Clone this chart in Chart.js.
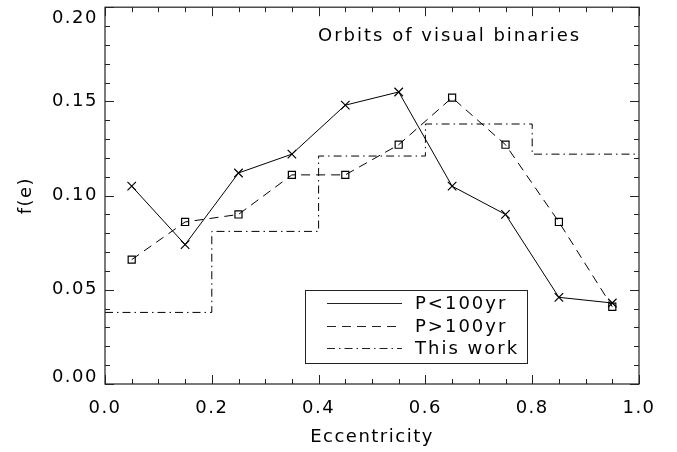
<!DOCTYPE html>
<html>
<head>
<meta charset="utf-8">
<script src="https://cdn.jsdelivr.net/npm/chart.js@4"></script>
<style>
  html, body { margin: 0; padding: 0; background: #fff; }
</style>
</head>
<body>
<canvas id="eccChart" width="677" height="452"></canvas>
<script>
/* Data */
const binCenters = [0.05, 0.15, 0.25, 0.35, 0.45, 0.55, 0.65, 0.75, 0.85, 0.95];
const shortPeriod = [0.105, 0.074, 0.112, 0.122, 0.148, 0.155, 0.105, 0.090, 0.046, 0.043];
const longPeriod = [0.066, 0.086, 0.090, 0.111, 0.111, 0.127, 0.152, 0.127, 0.086, 0.041];
const binEdges = [0.0, 0.2, 0.4, 0.6, 0.8, 1.0];
const thisWork = [0.038, 0.081, 0.121, 0.138, 0.122, 0.122];

const xTicks = [0.0, 0.2, 0.4, 0.6, 0.8, 1.0];
const yTicks = [0.0, 0.05, 0.10, 0.15, 0.20];
const seriesNames = ["P<100yr", "P>100yr", "This work"];
const titleText = "Orbits of visual binaries";

const FONT = "'DejaVu Sans', 'Liberation Sans', sans-serif";
const INK = "#000";
const dashLong = [9, 6];
const dashDot = [8, 4, 1.5, 4];

Chart.defaults.font.family = FONT;
Chart.defaults.font.size = 18;
Chart.defaults.color = INK;

function toPoints(xs, ys) {
  return xs.map((x, i) => ({ x: x, y: ys[i] }));
}

/* Frame, inward ticks, y labels, title and legend box */
const idlFrame = {
  id: "idlFrame",
  beforeDraw(chart) {
    chart.ctx.letterSpacing = "1.5px";
  },
  afterDraw(chart) {
    const ctx = chart.ctx;
    const area = chart.chartArea;
    const xs = chart.scales.x;
    const ys = chart.scales.y;

    ctx.save();
    ctx.strokeStyle = "#222";
    ctx.lineWidth = 1.2;
    ctx.strokeRect(area.left, area.top, area.right - area.left, area.bottom - area.top);

    ctx.lineWidth = 1;
    ctx.beginPath();
    for (let i = 0; i <= 20; i++) {
      const v = i * 0.05;
      const px = Math.round(xs.getPixelForValue(v)) + 0.5;
      const len = i % 4 === 0 ? 9 : 5;
      ctx.moveTo(px, area.bottom);
      ctx.lineTo(px, area.bottom - len);
      ctx.moveTo(px, area.top);
      ctx.lineTo(px, area.top + len);
    }
    for (let i = 0; i <= 20; i++) {
      const v = i * 0.01;
      const py = Math.round(ys.getPixelForValue(v)) + 0.5;
      const len = i % 5 === 0 ? 9 : 5;
      ctx.moveTo(area.left, py);
      ctx.lineTo(area.left + len, py);
      ctx.moveTo(area.right, py);
      ctx.lineTo(area.right - len, py);
    }
    ctx.stroke();

    // y tick labels, kept inside the frame height like the original
    ctx.fillStyle = INK;
    ctx.font = "18px " + FONT;
    ctx.textAlign = "right";
    ctx.textBaseline = "middle";
    yTicks.forEach((v) => {
      let py = ys.getPixelForValue(v);
      py = Math.min(Math.max(py, area.top + 11), area.bottom - 7);
      ctx.fillText(v.toFixed(2), area.left - 7, py);
    });

    // title inside plot
    ctx.letterSpacing = "2px";
    ctx.textAlign = "left";
    ctx.fillText(titleText, 318, 36);

    // legend
    const box = { left: 305, top: 290, right: 527, bottom: 363 };
    ctx.lineWidth = 1;
    ctx.strokeStyle = "#222";
    ctx.strokeRect(box.left + 0.5, box.top + 0.5, box.right - box.left, box.bottom - box.top);
    const rows = [303, 326, 348];
    const dashes = [[], dashLong, dashDot];
    rows.forEach((ry, i) => {
      ctx.setLineDash(dashes[i]);
      ctx.beginPath();
      ctx.moveTo(327, ry + 0.5);
      ctx.lineTo(402, ry + 0.5);
      ctx.stroke();
      ctx.setLineDash([]);
      ctx.fillText(seriesNames[i], 415, ry + 1);
    });
    ctx.restore();
  }
};

const ctx = document.getElementById("eccChart").getContext("2d");

const eccChart = new Chart(ctx, {
  type: "line",
  data: {
    datasets: [
      {
        label: seriesNames[0],
        data: toPoints(binCenters, shortPeriod),
        borderColor: INK,
        borderWidth: 1,
        pointStyle: "crossRot",
        pointRadius: 6,
        pointBorderColor: INK,
        pointBorderWidth: 1.2,
        tension: 0
      },
      {
        label: seriesNames[1],
        data: toPoints(binCenters, longPeriod),
        borderColor: INK,
        borderWidth: 1,
        borderDash: dashLong,
        pointStyle: "rect",
        pointRadius: 5,
        pointBackgroundColor: "rgba(0,0,0,0)",
        pointBorderColor: INK,
        pointBorderWidth: 1.2,
        tension: 0
      },
      {
        label: seriesNames[2],
        data: toPoints(binEdges, thisWork),
        borderColor: INK,
        borderWidth: 1,
        borderDash: dashDot,
        stepped: "before",
        pointRadius: 0
      }
    ]
  },
  options: {
    responsive: false,
    animation: false,
    devicePixelRatio: 1,
    layout: { padding: { top: 4, right: 38, left: 0, bottom: 0 } },
    plugins: {
      legend: { display: false },
      tooltip: { enabled: false }
    },
    scales: {
      x: {
        type: "linear",
        min: 0,
        max: 1,
        grid: { display: false, drawTicks: false },
        border: { display: false },
        afterBuildTicks: (scale) => {
          scale.ticks = xTicks.map((v) => ({ value: v }));
        },
        ticks: {
          padding: 14,
          maxRotation: 0,
          callback: (v) => Number(v).toFixed(1)
        },
        title: {
          display: true,
          text: "Eccentricity",
          padding: { top: 0, bottom: 4 }
        },
        afterFit: (scale) => {
          scale.height = 68;
        }
      },
      y: {
        type: "linear",
        min: 0,
        max: 0.2,
        grid: { display: false, drawTicks: false },
        border: { display: false },
        ticks: { display: false, stepSize: 0.05 },
        title: {
          display: true,
          text: "f(e)",
          padding: { top: 16, bottom: 0 }
        },
        afterFit: (scale) => {
          scale.width = 105;
          scale.paddingTop = 0;
          scale.paddingBottom = 0;
        }
      }
    }
  },
  plugins: [idlFrame]
});
</script>
</body>
</html>
